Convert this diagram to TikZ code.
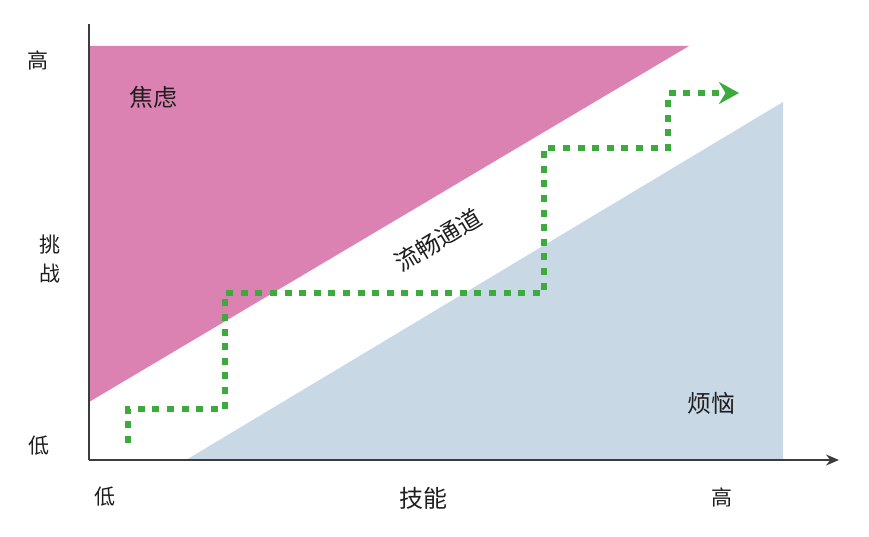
\documentclass[tikz,border=0pt]{standalone}
\usepackage{fontspec}
\newfontfamily\cjk{Noto Sans CJK SC}
\usetikzlibrary{arrows.meta}
\definecolor{pinkfill}{RGB}{219,130,178}
\definecolor{bluefill}{RGB}{200,216,229}
\definecolor{pathgreen}{RGB}{61,170,61}
\definecolor{axisgray}{RGB}{60,60,60}
\definecolor{txt}{RGB}{30,30,30}
\tikzset{
  axisline/.style={draw=axisgray, line width=1.8pt},
  lbl/.style={font=\cjk\fontsize{21}{25}\selectfont, text=txt, inner sep=0pt},
  zone/.style={font=\cjk\fontsize{24}{28}\selectfont, text=txt, inner sep=0pt},
  flow/.style={draw=pathgreen, line width=6.5pt, dash pattern=on 7pt off 7.6pt, line join=miter},
}
\begin{document}
\begin{tikzpicture}[x=1pt,y=-1pt]
\useasboundingbox (0,0) rectangle (869,537);
% regions
\fill[pinkfill] (89,46) -- (689,46) -- (89,402) -- cycle;
\fill[bluefill] (186,460) -- (783,102) -- (783,460) -- cycle;
% axes
\coordinate (o) at (89,460);
\coordinate (ytop) at (89,24);
\coordinate (xend) at (839,460);
\draw[axisline] (ytop) -- (o);
\draw[axisline, -{Stealth[length=13pt,width=11pt]}] (o) -- (xend);
% axis labels
\node[lbl] (yhi) at (38,60) {高};
\node[lbl, align=center] (ychal) at (50,259) {挑\\[4pt]战};
\node[lbl] (ylo) at (39,446) {低};
\node[lbl] (xlo) at (105,497) {低};
\node[lbl] (xhi) at (722,497) {高};
\node[zone] (xskill) at (423,498) {技能};
% zone labels
\node[zone] (anx) at (153,97) {焦虑};
\node[zone] (bore) at (711,403) {烦恼};
\node[zone, rotate=31] (chan) at (438,240) {流畅通道};
% flow path
\coordinate (p0) at (128,443);
\coordinate (p1) at (128,409);
\coordinate (p2) at (225,409);
\coordinate (p3) at (225,293);
\coordinate (p4) at (544,293);
\coordinate (p5) at (544,148);
\coordinate (p6) at (668,148);
\coordinate (p7) at (668,93);
\coordinate (p8) at (739,93);
\draw[flow, -{Stealth[length=20pt,width=22pt,fill=pathgreen]}] (p0) -- (p1) -- (p2) -- (p3) -- (p4) -- (p5) -- (p6) -- (p7) -- (p8);
\end{tikzpicture}
\end{document}
